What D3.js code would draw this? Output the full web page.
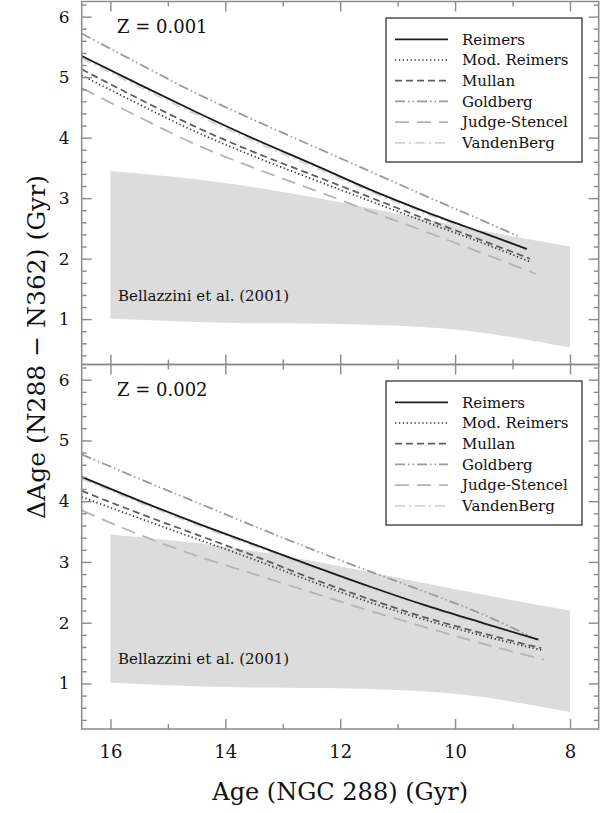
<!DOCTYPE html>
<html><head><meta charset="utf-8">
<script src="https://cdn.jsdelivr.net/npm/d3@7"></script>
<style>
body{margin:0;background:#fff}
svg{display:block}
text{font-family:"DejaVu Serif","Liberation Serif",serif;fill:#111}
</style>
</head><body>
<svg id="chart" width="600" height="813"></svg>
<script>
// ---------- data ----------
const modelNames = ["Reimers","Mod. Reimers","Mullan","Goldberg","Judge-Stencel","VandenBerg"];
const panelLabels = ["Z = 0.001","Z = 0.002"];
const xMajorTicks = [16,14,12,10,8];
const xMinorTicks = [15,13,11,9];
const yMajorTicks = [1,2,3,4,5,6];
const bandLabel = "Bellazzini et al. (2001)";

// Bellazzini et al. (2001) band
const bandAges  = [16,15,14,13,12,11,10,9,8];
const bandUpper = [3.45,3.36,3.25,3.10,2.93,2.74,2.55,2.37,2.20];
const bandLower = [1.01,0.97,0.94,0.93,0.92,0.89,0.83,0.70,0.53];

// Z = 0.001  [age, dAge]
const z001Reimers   = [[16.5,5.35],[15.5,4.88],[14.5,4.42],[13.5,3.98],[12.5,3.57],[11.5,3.15],[10.5,2.77],[9.5,2.42],[8.75,2.16]];
const z001ModReim   = [[16.5,5.03],[15.5,4.55],[14.5,4.09],[13.5,3.69],[12.5,3.32],[11.5,2.96],[10.5,2.60],[9.5,2.25],[8.7,1.95]];
const z001Mullan    = [[16.5,5.13],[15.5,4.64],[14.5,4.17],[13.5,3.76],[12.5,3.39],[11.5,3.02],[10.5,2.65],[9.5,2.29],[8.7,2.00]];
const z001Goldberg  = [[16.5,5.72],[15.5,5.22],[14.5,4.73],[13.5,4.29],[12.5,3.87],[11.5,3.45],[10.5,3.03],[9.5,2.62],[8.9,2.37]];
const z001Judge     = [[16.5,4.82],[15.5,4.34],[14.5,3.88],[13.5,3.50],[12.5,3.15],[11.5,2.79],[10.5,2.44],[9.5,2.08],[8.6,1.75]];
const z001VandenB   = [[16.5,5.31],[15.5,4.84],[14.5,4.38],[13.5,3.94],[12.5,3.53],[11.5,3.12],[10.5,2.74],[9.5,2.39],[8.75,2.14]];

// Z = 0.002
const z002Reimers   = [[16.5,4.40],[15.5,4.01],[14.5,3.64],[13.5,3.29],[12.5,2.94],[11.5,2.60],[10.5,2.28],[9.5,1.99],[8.55,1.72]];
const z002ModReim   = [[16.5,4.07],[15.5,3.72],[14.5,3.38],[13.5,3.04],[12.5,2.68],[11.5,2.34],[10.5,2.04],[9.5,1.78],[8.5,1.55]];
const z002Mullan    = [[16.5,4.17],[15.5,3.80],[14.5,3.45],[13.5,3.10],[12.5,2.73],[11.5,2.39],[10.5,2.08],[9.5,1.82],[8.5,1.58]];
const z002Goldberg  = [[16.5,4.77],[15.5,4.37],[14.5,3.98],[13.5,3.59],[12.5,3.21],[11.5,2.85],[10.5,2.50],[9.5,2.13],[8.68,1.77]];
const z002Judge     = [[16.5,3.85],[15.5,3.45],[14.5,3.10],[13.5,2.80],[12.5,2.50],[11.5,2.20],[10.5,1.92],[9.5,1.65],[8.45,1.39]];
const z002VandenB   = [[16.5,4.37],[15.5,3.98],[14.5,3.61],[13.5,3.26],[12.5,2.91],[11.5,2.57],[10.5,2.25],[9.5,1.96],[8.55,1.70]];

const panelSeries = [
  [z001Reimers,z001ModReim,z001Mullan,z001Goldberg,z001Judge,z001VandenB],
  [z002Reimers,z002ModReim,z002Mullan,z002Goldberg,z002Judge,z002VandenB]
];

// ---------- styles ----------
const styles = {
  "Reimers":       {stroke:"#1a1a1a", dash:null,                 w:1.8},
  "Mod. Reimers":  {stroke:"#333333", dash:"1.3,2.6",            w:1.7},
  "Mullan":        {stroke:"#5e5e5e", dash:"7,4",                w:1.8},
  "Goldberg":      {stroke:"#9a9a9a", dash:"10,3,1.5,3,1.5,3",   w:1.8},
  "Judge-Stencel": {stroke:"#b4b4b4", dash:"14,8",               w:1.8},
  "VandenBerg":    {stroke:"#d4d4d4", dash:"10,4,2,4",           w:1.8}
};
const drawOrder = ["VandenBerg","Judge-Stencel","Goldberg","Mullan","Mod. Reimers","Reimers"];

const L = 81.7, R = 598.7;
const panelBox = [{top:1.5,bottom:364.5},{top:364.5,bottom:729}];
const axisColor = "#8a8a8a";

const svg = d3.select("#chart");
const x = d3.scaleLinear().domain([16.5,7.5]).range([L,R]);

svg.append("defs").selectAll("clipPath").data(panelBox).join("clipPath")
  .attr("id",(d,i)=>"clip"+i)
  .append("rect").attr("x",L).attr("y",d=>d.top).attr("width",R-L).attr("height",d=>d.bottom-d.top);

panelBox.forEach((pb,pi)=>{
  const y = d3.scaleLinear().domain([0.25,6.25]).range([pb.bottom,pb.top]);
  const g = svg.append("g");
  const plot = g.append("g").attr("clip-path",`url(#clip${pi})`);

  // band
  const bandData = bandAges.map((a,i)=>({a,lo:bandLower[i],hi:bandUpper[i]}));
  plot.append("path").datum(bandData)
    .attr("fill","#dcdcdc")
    .attr("d",d3.area().curve(d3.curveMonotoneX).x(d=>x(d.a)).y0(d=>y(d.lo)).y1(d=>y(d.hi)));

  plot.append("text").attr("x",118).attr("y",pb.top+299)
    .attr("font-size",15).text(bandLabel);

  // lines
  const line = d3.line().curve(d3.curveMonotoneX).x(d=>x(d[0])).y(d=>y(d[1]));
  drawOrder.forEach(name=>{
    const idx = modelNames.indexOf(name);
    const st = styles[name];
    plot.append("path").datum(panelSeries[pi][idx])
      .attr("fill","none").attr("stroke",st.stroke).attr("stroke-width",st.w)
      .attr("stroke-dasharray",st.dash).attr("d",line);
  });

  // axes ticks
  const tickStyle = sel => { sel.select(".domain").remove(); sel.selectAll("line").attr("stroke",axisColor).attr("stroke-width",1.4); };
  // bottom
  const bAx = g.append("g").attr("transform",`translate(0,${pb.bottom})`)
    .call(d3.axisBottom(x).tickValues(xMajorTicks).tickSize(-10).tickPadding(16).tickFormat(pi===1?d3.format("d"):""));
  tickStyle(bAx);
  bAx.selectAll("text").attr("font-size",18).attr("fill","#111").style("font-family",'"DejaVu Serif",serif');
  const bAxm = g.append("g").attr("transform",`translate(0,${pb.bottom})`)
    .call(d3.axisBottom(x).tickValues(xMinorTicks).tickSize(-5).tickFormat(""));
  tickStyle(bAxm);
  // top
  const tAx = g.append("g").attr("transform",`translate(0,${pb.top})`)
    .call(d3.axisTop(x).tickValues(xMajorTicks).tickSize(-10).tickFormat(""));
  tickStyle(tAx);
  const tAxm = g.append("g").attr("transform",`translate(0,${pb.top})`)
    .call(d3.axisTop(x).tickValues(xMinorTicks).tickSize(-5).tickFormat(""));
  tickStyle(tAxm);
  // left
  const minorY = d3.range(0.4,6.25,0.2).filter(v=>Math.abs(v-Math.round(v))>1e-6);
  const lAx = g.append("g").attr("transform",`translate(${L},0)`)
    .call(d3.axisLeft(y).tickValues(yMajorTicks).tickSize(-10).tickPadding(12).tickFormat(d3.format("d")));
  tickStyle(lAx);
  lAx.selectAll("text").attr("font-size",17).attr("fill","#111").style("font-family",'"DejaVu Serif",serif');
  const lAxm = g.append("g").attr("transform",`translate(${L},0)`)
    .call(d3.axisLeft(y).tickValues(minorY).tickSize(-5).tickFormat(""));
  tickStyle(lAxm);
  // right
  const rAx = g.append("g").attr("transform",`translate(${R},0)`)
    .call(d3.axisRight(y).tickValues(yMajorTicks).tickSize(-10).tickFormat(""));
  tickStyle(rAx);
  const rAxm = g.append("g").attr("transform",`translate(${R},0)`)
    .call(d3.axisRight(y).tickValues(minorY).tickSize(-5).tickFormat(""));
  tickStyle(rAxm);

  // frame
  g.append("rect").attr("x",L).attr("y",pb.top).attr("width",R-L).attr("height",pb.bottom-pb.top)
    .attr("fill","none").attr("stroke",axisColor).attr("stroke-width",1.5);

  // panel label
  g.append("text").attr("x",117).attr("y",pb.top+31.5).attr("font-size",18).text(panelLabels[pi]);

  // legend
  const lg = g.append("g");
  lg.append("rect").attr("x",386).attr("y",pb.top+16.5).attr("width",196).attr("height",144)
    .attr("fill","#fff").attr("stroke","#333").attr("stroke-width",1.3);
  modelNames.forEach((name,i)=>{
    const cy = pb.top + 37.8 + i*20.7;
    const st = styles[name];
    lg.append("line").attr("x1",395).attr("x2",448).attr("y1",cy).attr("y2",cy)
      .attr("stroke",st.stroke).attr("stroke-width",st.w).attr("stroke-dasharray",st.dash);
    lg.append("text").attr("x",462).attr("y",cy).attr("dy","0.35em").attr("font-size",15).text(name);
  });
});

// axis titles
svg.append("text").attr("x",(L+R)/2).attr("y",800).attr("text-anchor","middle")
  .attr("font-size",24).text("Age (NGC 288) (Gyr)");
svg.append("text").attr("transform","translate(45,347) rotate(-90)").attr("text-anchor","middle")
  .attr("font-size",25).text("\u0394Age (N288 \u2212 N362) (Gyr)");
</script>
</body></html>
